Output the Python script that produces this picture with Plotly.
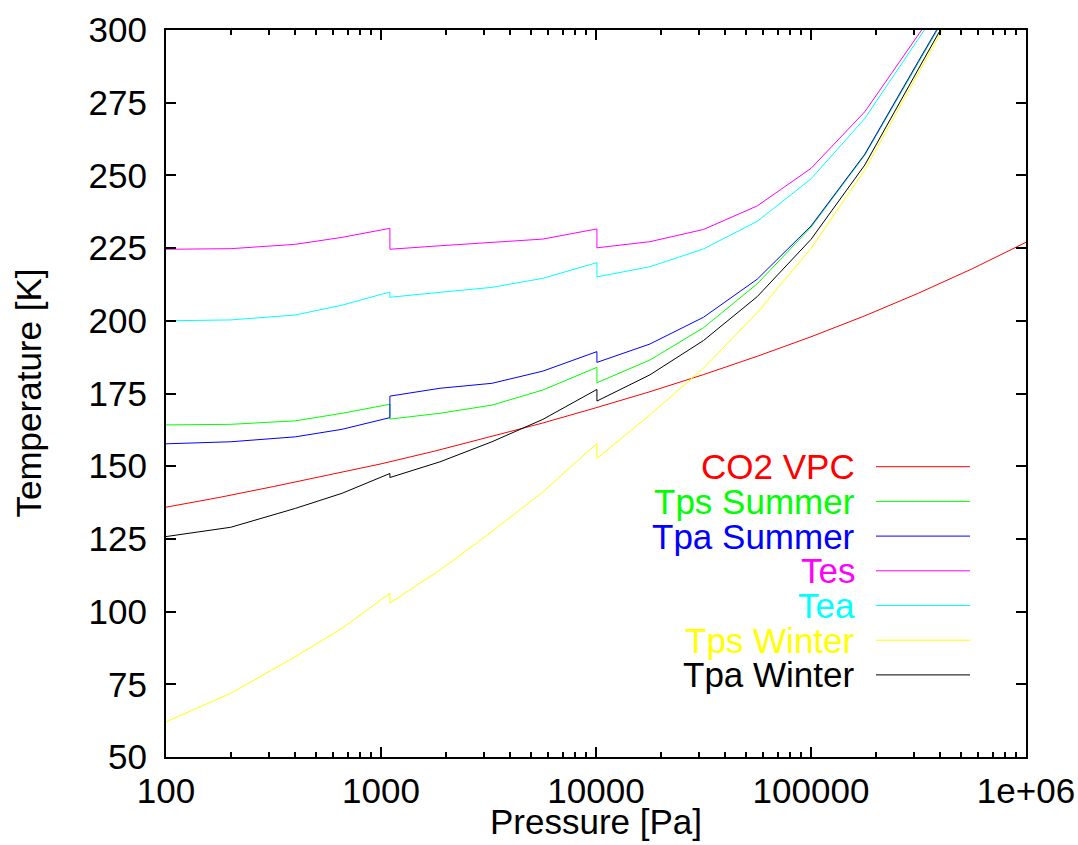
import plotly.graph_objects as go

# Pressure grid [Pa] (duplicate values = discontinuities)
pressure = [100, 200, 400, 660, 1100, 1100, 1880, 3280, 5660, 10100, 10100,
            17800, 31600, 56200, 100000, 178000, 316000, 562000]

tps_summer = [164.2, 164.4, 165.6, 168.2, 171.3, 166.2, 168.2, 171.0, 176.2, 184.0, 178.7,
              186.5, 197.6, 212.7, 232.2, 257.0, 288.8, 320.6]
tpa_summer = [157.7, 158.4, 160.1, 162.7, 166.7, 174.1, 176.8, 178.5, 182.7, 189.4, 185.7,
              192.0, 201.2, 214.3, 232.6, 257.3, 289.3, 321.0]
tes = [224.6, 224.8, 226.3, 228.7, 231.8, 224.6, 225.8, 227.0, 228.1, 231.6, 225.1,
       227.2, 231.4, 239.5, 252.4, 271.9, 298.6, 325.0]
tea = [200.0, 200.3, 202.0, 205.4, 209.9, 208.1, 209.8, 211.5, 214.6, 220.0, 215.1,
       218.6, 224.7, 234.2, 248.8, 269.6, 297.0, 324.3]
tps_winter = [62.1, 71.9, 84.5, 94.3, 106.3, 102.9, 114.3, 127.5, 141.2, 157.8, 152.7,
              167.6, 183.7, 202.8, 224.9, 251.9, 285.2, 318.5]
tpa_winter = [125.8, 129.0, 135.5, 140.7, 147.5, 146.1, 151.5, 158.4, 166.1, 176.4, 172.4,
              181.4, 193.2, 208.3, 228.0, 253.6, 286.6, 319.5]

# CO2 vapour pressure curve
co2_pressure = [100, 178, 316, 562, 1000, 1778, 3162, 5623, 10000, 17783, 31623,
                56234, 100000, 177828, 316228, 562341, 1000000]
co2_vpc = [135.9, 139.3, 143.0, 146.8, 150.8, 155.2, 159.9, 164.8, 170.1, 175.6, 181.5,
           187.8, 194.5, 201.7, 209.5, 217.9, 227.0]

series_names = ["CO2 VPC", "Tps Summer", "Tpa Summer", "Tes", "Tea", "Tps Winter", "Tpa Winter"]
series_colors = ["#ff0000", "#00ff00", "#0000ff", "#ff00ff", "#00ffff", "#ffff00", "#000000"]
series_x = [co2_pressure, pressure, pressure, pressure, pressure, pressure, pressure]
series_y = [co2_vpc, tps_summer, tpa_summer, tes, tea, tps_winter, tpa_winter]

x_tickvals = [100, 1000, 10000, 100000, 1000000]
x_ticktext = ["100", "1000", "10000", "100000", "1e+06"]
y_tickvals = [50, 75, 100, 125, 150, 175, 200, 225, 250, 275, 300]

FONT = "Liberation Sans, Arial, sans-serif"
FS = 35

fig = go.Figure()
for name, col, xs, ys in zip(series_names, series_colors, series_x, series_y):
    fig.add_trace(go.Scatter(x=xs, y=ys, mode="lines", name=name,
                             line=dict(color=col, width=1), showlegend=False))

# gnuplot-style key: right-aligned coloured text, sample line to the right
W, H = 1078, 845
L, R, T, B = 166, 52, 30, 88
pw, ph = W - L - R, H - T - B
row_y = [466.7, 501.4, 536.1, 570.8, 605.5, 640.2, 674.9]
for name, col, yy in zip(series_names, series_colors, row_y):
    yp = (H - B - yy) / ph
    fig.add_annotation(x=(856 - L) / pw, y=yp, xref="paper", yref="paper",
                       text=name, showarrow=False, xanchor="right", yanchor="middle",
                       borderpad=0, font=dict(family=FONT, size=FS, color=col))
    fig.add_shape(type="line", xref="paper", yref="paper",
                  x0=(876 - L) / pw, x1=(970 - L) / pw, y0=yp, y1=yp,
                  line=dict(color=col, width=1))

fig.add_annotation(x=0.5, y=(H - B - 821) / ph, xref="paper", yref="paper",
                   text="Pressure [Pa]", showarrow=False, xanchor="center", yanchor="middle",
                   borderpad=0, font=dict(family=FONT, size=FS, color="black"))
fig.add_annotation(x=(28 - L) / pw, y=0.5, xref="paper", yref="paper",
                   text="Temperature [K]", showarrow=False, textangle=-90,
                   xanchor="center", yanchor="middle",
                   font=dict(family=FONT, size=FS, color="black"))

axis_common = dict(showgrid=False, zeroline=False, showline=True, linecolor="black",
                   linewidth=2, mirror="allticks", ticks="inside", ticklen=10,
                   tickwidth=2, tickcolor="black", automargin=False,
                   tickfont=dict(family=FONT, size=FS, color="black"))

fig.update_xaxes(type="log", range=[2, 6], tickvals=x_tickvals, ticktext=x_ticktext,
                 ticklabelstandoff=2,
                 minor=dict(ticks="inside", ticklen=5, tickwidth=2, tickcolor="black",
                            dtick="D1", showgrid=False),
                 **axis_common)
fig.update_yaxes(range=[50, 300], tickvals=y_tickvals, ticklabelstandoff=10, **axis_common)

fig.update_layout(width=W, height=H, margin=dict(l=L, r=R, t=T, b=B, autoexpand=False),
                  plot_bgcolor="white", paper_bgcolor="white",
                  font=dict(family=FONT, size=FS, color="black"))

fig.write_html("out.html")
